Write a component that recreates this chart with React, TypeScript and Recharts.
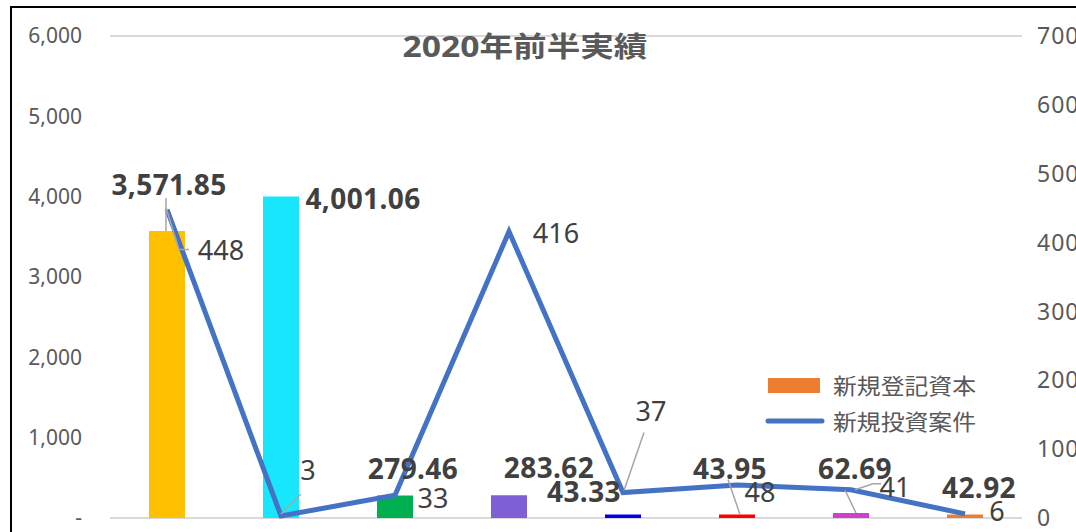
import { Bar, CartesianGrid, Cell, ComposedChart, LabelList, Legend, Line, XAxis, YAxis } from "recharts";

const categories = ["区分1", "区分2", "区分3", "区分4", "区分5", "区分6", "区分7", "区分8"];
const capital = [3571.85, 4001.06, 279.46, 283.62, 43.33, 43.95, 62.69, 42.92];
const cases = [448, 3, 33, 416, 37, 48, 41, 6];
const barColors = ["#FFC000", "#17E6FC", "#00B050", "#7F5FD6", "#0000E8", "#FF0000", "#D03FD0", "#ED7D31"];
const leftTicks = [0, 1000, 2000, 3000, 4000, 5000, 6000];
const rightTicks = [0, 100, 200, 300, 400, 500, 600, 700];

const data = categories.map((name, i) => ({ name, capital: capital[i], cases: cases[i] }));

// label placement (Excel had them dragged around by hand)
const barLabelOffset = [[2, -47], [82, 1], [18, -28], [40, -28], [-39, -24], [-7, -46], [4, -45], [14, -28]];
const lineLabelOffset = [[54, 40], [27, -46], [38, 2], [47, 1], [28, -82], [23, 7], [44, -3], [32, -3]];

const FONT = "'Noto Sans', 'Noto Sans CJK JP', sans-serif";
const LEADER = "#a6a6a6";

const fmt = (v: number) => v.toLocaleString("en-US", { minimumFractionDigits: 2, maximumFractionDigits: 2 });

function BarLabel(props: any) {
  const { x, y, width, value, index } = props;
  const cx = x + width / 2;
  const [dx, dy] = barLabelOffset[index];
  const lx = cx + dx;
  const ly = y + dy;
  return (
    <g>
      {index === 0 && <line x1={cx - 1} y1={ly + 14} x2={cx - 1} y2={y} stroke={LEADER} strokeWidth={1.5} />}
      {index === 5 && <line x1={lx - 2} y1={ly + 11} x2={cx + 3} y2={y} stroke={LEADER} strokeWidth={1.5} />}
      {index === 6 && <line x1={lx - 10} y1={ly + 22} x2={cx + 5} y2={y} stroke={LEADER} strokeWidth={1.5} />}
      <text x={lx} y={ly} textAnchor="middle" dominantBaseline="central" fontFamily={FONT} fontSize={28} fontWeight="bold" fill="#404040" letterSpacing={0.4}>
        {fmt(value)}
      </text>
    </g>
  );
}

function LineLabel(props: any) {
  const { x, y, value, index } = props;
  const [dx, dy] = lineLabelOffset[index];
  const lx = x + dx;
  const ly = y + dy;
  return (
    <g>
      {index === 0 && (
        <polyline points={`${x - 1},${y - 2} ${x + 12},${ly} ${lx - 32},${ly}`} fill="none" stroke={LEADER} strokeWidth={1.5} />
      )}
      {index === 1 && <line x1={x} y1={y - 2} x2={x + 20} y2={y - 22} stroke={LEADER} strokeWidth={1.5} />}
      {index === 4 && <line x1={x + 1} y1={y - 2} x2={x + 21} y2={y - 60} stroke={LEADER} strokeWidth={1.5} />}
      {index === 6 && (
        <polyline points={`${x + 4},${y} ${x + 22},${y - 6} ${lx - 14},${y - 6}`} fill="none" stroke={LEADER} strokeWidth={1.5} />
      )}
      <text x={lx} y={ly} textAnchor="middle" dominantBaseline="central" fontFamily={FONT} fontSize={27} fill="#404040">
        {value}
      </text>
    </g>
  );
}

function LegendBox(props: any) {
  const items = [...(props.payload ?? [])].sort((a: any, b: any) => (a.type === "line" ? 1 : 0) - (b.type === "line" ? 1 : 0));
  return (
    <svg width={240} height={80}>
      {items.map((item: any, i: number) => {
        const cy = 17 + i * 36;
        return (
          <g key={item.value}>
            {item.type === "line" ? (
              <line x1={8} y1={cy} x2={62} y2={cy} stroke="#4472C4" strokeWidth={5} strokeLinecap="round" />
            ) : (
              <rect x={8} y={cy - 7} width={52} height={15} fill="#ED7D31" />
            )}
            <text x={73} y={cy} dominantBaseline="central" fontFamily={FONT} fontSize={22} fill="#595959" textLength={143} lengthAdjust="spacingAndGlyphs">
              {item.value}
            </text>
          </g>
        );
      })}
    </svg>
  );
}

export default function App() {
  return (
    <div style={{ position: "absolute", left: 0, top: 0, width: 1076, height: 532, overflow: "hidden", background: "#fff" }}>
      <div style={{ position: "absolute", left: 10, top: 6, width: 1100, height: 560, border: "2px solid #000" }} />
      <div style={{ position: "absolute", left: 0, top: 0 }}>
        <ComposedChart width={1130} height={560} data={data} margin={{ top: 36, right: 48, bottom: 42, left: 20 }} barCategoryGap={0}>
          <text x={525} y={46} textAnchor="middle" dominantBaseline="central" fontFamily={FONT} fontSize={28} fontWeight="bold" fill="#595959" textLength={245} lengthAdjust="spacingAndGlyphs">
            2020年前半実績
          </text>
          <CartesianGrid vertical={false} stroke="#d9d9d9" strokeWidth={2} />
          <XAxis dataKey="name" hide />
          <YAxis
            yAxisId="left"
            domain={[0, 6000]}
            ticks={leftTicks}
            width={90}
            axisLine={false}
            tickLine={false}
            tickMargin={22}
            tick={{ fontFamily: FONT, fontSize: 21, fill: "#595959" }}
            tickFormatter={(v: number) => (v === 0 ? "-" : v.toLocaleString("en-US"))}
          />
          <YAxis
            yAxisId="right"
            orientation="right"
            domain={[0, 700]}
            ticks={rightTicks}
            width={60}
            axisLine={false}
            tickLine={false}
            tickMargin={9}
            tick={{ fontFamily: FONT, fontSize: 23, fill: "#595959", letterSpacing: 1 }}
          />
          <Legend
            layout="vertical"
            align="center"
            verticalAlign="middle"
            content={<LegendBox />}
            wrapperStyle={{ left: 760, top: 368, width: 240 }}
          />
          <Bar yAxisId="left" dataKey="capital" name="新規登記資本" barSize={36} fill="#ED7D31" isAnimationActive={false} legendType="rect">
            {data.map((d, i) => (
              <Cell key={d.name} fill={barColors[i]} />
            ))}
            <LabelList dataKey="capital" content={<BarLabel />} />
          </Bar>
          <Line
            yAxisId="right"
            dataKey="cases"
            name="新規投資案件"
            type="linear"
            stroke="#4472C4"
            strokeWidth={5}
            dot={false}
            activeDot={false}
            legendType="line"
            isAnimationActive={false}
          >
            <LabelList dataKey="cases" content={<LineLabel />} />
          </Line>
        </ComposedChart>
      </div>
    </div>
  );
}
